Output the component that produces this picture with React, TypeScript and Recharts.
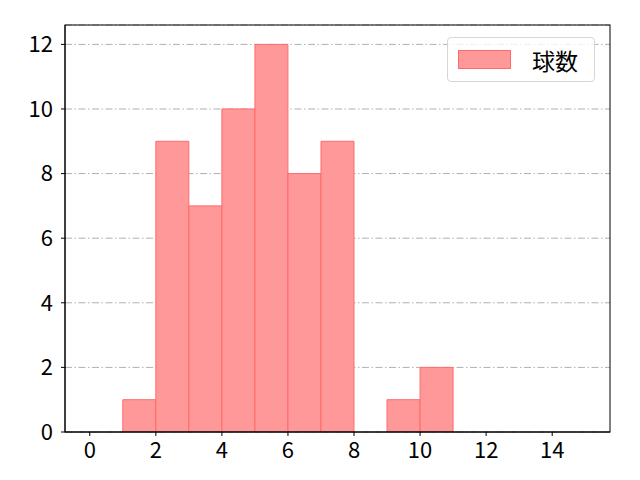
import { Bar, CartesianGrid, ComposedChart, Line, XAxis, YAxis } from "recharts";

const binStarts = [0, 1, 2, 3, 4, 5, 6, 7, 8, 9, 10, 11, 12, 13, 14];
const pitchCounts = [0, 1, 9, 7, 10, 12, 8, 9, 0, 1, 2, 0, 0, 0, 0];
const seriesName = "球数";
const xTicks = [0, 2, 4, 6, 8, 10, 12, 14];
const yTicks = [0, 2, 4, 6, 8, 10, 12];

const W = 640;
const H = 480;
const margin = { top: 25, right: 30, left: 0, bottom: 0 };
const yAxisWidth = 65;
const xAxisHeight = 48;
const xDomain: [number, number] = [-0.75, 15.75];

const plotWidth = W - margin.left - margin.right - yAxisWidth;
const unit = plotWidth / (xDomain[1] - xDomain[0]);
const pad = (binStarts[0] - xDomain[0]) * unit;

const data = binStarts.map((s, i) => ({
  bin: s,
  edge: s,
  count: pitchCounts[i],
}));

const font = '"Noto Sans CJK JP", "Noto Sans", sans-serif';
const tickStyle = { fontSize: 22, fill: "#000", fontFamily: font };

export default function App() {
  return (
    <div style={{ position: "absolute", left: 0, top: 0, width: W, height: H, background: "#fff" }}>
      <ComposedChart width={W} height={H} data={data} margin={margin} barCategoryGap={0} barGap={0}>
        <CartesianGrid
          vertical={false}
          stroke="#b0b0b0"
          strokeDasharray="7 2.5 1.5 2.5"
          yAxisId="y"
          xAxisId="num"
        />
        <XAxis
          xAxisId="cat"
          dataKey="bin"
          type="category"
          hide
          height={0}
          padding={{ left: pad, right: pad }}
        />
        <XAxis
          xAxisId="num"
          dataKey="edge"
          type="number"
          domain={xDomain}
          ticks={xTicks}
          allowDataOverflow
          height={xAxisHeight}
          tick={tickStyle}
          tickSize={4}
          tickMargin={6}
          stroke="#000"
          tickLine={{ stroke: "#000" }}
        />
        <YAxis
          yAxisId="y"
          type="number"
          domain={[0, 12.6]}
          ticks={yTicks}
          allowDataOverflow
          width={yAxisWidth}
          tick={tickStyle}
          tickSize={4}
          tickMargin={8}
          stroke="#000"
          tickLine={{ stroke: "#000" }}
        />
        <Bar
          xAxisId="cat"
          yAxisId="y"
          dataKey="count"
          name={seriesName}
          fill="#ff9999"
          stroke="#ff6a6a"
          strokeWidth={1}
          isAnimationActive={false}
        />
        <Line
          xAxisId="num"
          yAxisId="y"
          dataKey="count"
          stroke="none"
          dot={false}
          activeDot={false}
          legendType="none"
          isAnimationActive={false}
        />
      </ComposedChart>
      <svg
        width={W}
        height={H}
        style={{ position: "absolute", left: 0, top: 0, pointerEvents: "none" }}
      >
        <rect x={65} y={25} width={545} height={407} fill="none" stroke="#000" strokeWidth={1} />
      </svg>
      <div
        style={{
          position: "absolute",
          left: 447,
          top: 37,
          width: 148,
          height: 45,
          border: "1px solid #d6d6d6",
          borderRadius: 4,
          background: "rgba(255,255,255,0.8)",
          boxSizing: "border-box",
          display: "flex",
          alignItems: "center",
          fontFamily: font,
          fontSize: 23,
        }}
      >
        <div
          style={{
            marginLeft: 10,
            width: 53,
            height: 19,
            background: "#ff9999",
            border: "1px solid #ff6a6a",
            boxSizing: "border-box",
          }}
        />
        <span style={{ marginLeft: 21 }}>{seriesName}</span>
      </div>
    </div>
  );
}
